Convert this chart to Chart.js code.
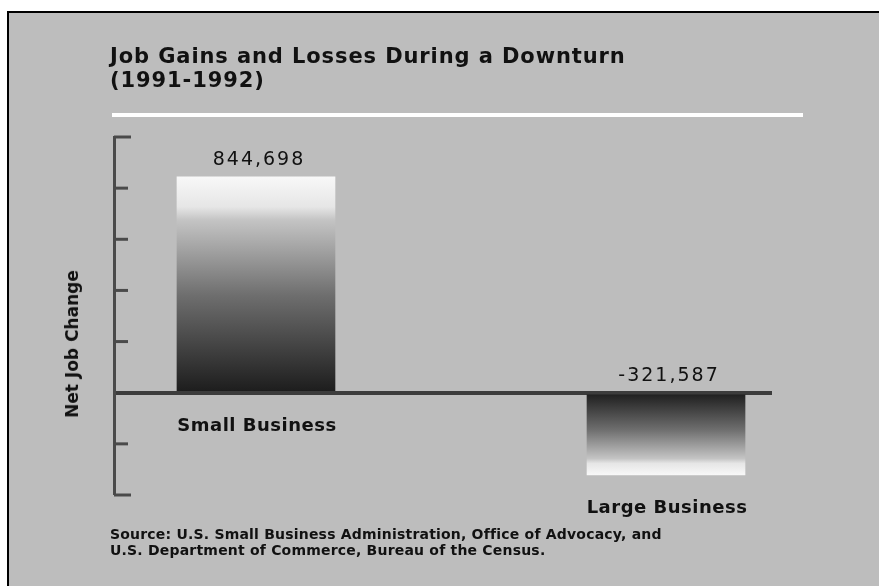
<!DOCTYPE html>
<html>
<head>
<meta charset="utf-8">
<script src="https://cdn.jsdelivr.net/npm/chart.js"></script>
<style>
  html, body { margin: 0; background: #fff; overflow: hidden; width: 879px; height: 586px; }
  #frame {
    position: absolute; left: 7px; top: 11px; width: 872px; height: 575px;
    border-left: 2px solid #000; border-top: 2px solid #000;
    background: #bdbdbd;
  }
  #wrap { position: absolute; left: 0; top: 0; width: 879px; height: 586px; }
  .txt { position: absolute; font-family: "DejaVu Sans", sans-serif; color: #111; white-space: nowrap; }
  #title { left: 110px; top: 44px; font-size: 21px; font-weight: 700; line-height: 24px; letter-spacing: 0.9px; }
  #rule { position: absolute; left: 112px; top: 113px; width: 691px; height: 4px; background: #fff; }
  #ylab { left: 72px; top: 344px; font-size: 17px; font-weight: 700; transform: translate(-50%, -50%) rotate(-90deg); }
  #source { left: 110px; top: 526px; font-size: 14px; font-weight: 700; line-height: 16px; letter-spacing: 0.2px; }
</style>
</head>
<body>
<div id="frame"></div>
<div id="wrap"><canvas id="chart" width="879" height="586"></canvas></div>
<div id="title" class="txt">Job Gains and Losses During a Downturn<br>(1991-1992)</div>
<div id="rule"></div>
<div id="ylab" class="txt">Net Job Change</div>
<div id="source" class="txt">Source: U.S. Small Business Administration, Office of Advocacy, and<br>U.S. Department of Commerce, Bureau of the Census.</div>
<script>
const categories = ['Small Business', 'Large Business'];
const netJobChange = [844698, -321587];
const valueLabels = ['844,698', '-321,587'];

function barGradient(ctx) {
    const chart = ctx.chart;
    if (!chart.chartArea || ctx.parsed === undefined) return '#777';
    const y = chart.scales.y;
    const base = y.getPixelForValue(0);
    const tip = y.getPixelForValue(ctx.parsed.y);
    const g = chart.ctx.createLinearGradient(0, base, 0, tip);
    g.addColorStop(0, '#1c1c1c');
    g.addColorStop(0.45, '#6e6e6e');
    g.addColorStop(0.8, '#c4c4c4');
    g.addColorStop(0.86, '#e6e6e6');
    g.addColorStop(1, '#f8f8f8');
    return g;
}

const decorations = {
    id: 'decorations',
    afterDraw(chart) {
        const c = chart.ctx;
        const y = chart.scales.y;
        const left = chart.chartArea.left;
        c.save();
        c.strokeStyle = '#4a4a4a';
        c.lineWidth = 3;
        y.ticks.forEach(t => {
            const py = y.getPixelForValue(t.value);
            const len = (t.value === y.max || t.value === y.min) ? 17 : 14;
            if (t.value === 0) return;
            c.beginPath();
            c.moveTo(left, py);
            c.lineTo(left + len, py);
            c.stroke();
        });
        const meta = chart.getDatasetMeta(0);
        const zero = y.getPixelForValue(0);
        c.fillStyle = '#111';
        c.textAlign = 'center';
        c.textBaseline = 'alphabetic';
        meta.data.forEach((bar, i) => {
            c.font = '19px "DejaVu Sans", sans-serif';
            c.letterSpacing = '2px';
            const top = Math.min(bar.y, zero);
            c.fillText(valueLabels[i], bar.x + 3, top - 12);
            c.font = 'bold 18px "DejaVu Sans", sans-serif';
            c.letterSpacing = '0.5px';
            const bottom = Math.max(bar.y, zero);
            c.fillText(categories[i], bar.x + 1, bottom + 38);
        });
        c.restore();
    }
};

new Chart(document.getElementById('chart'), {
    type: 'bar',
    data: {
        datasets: [{
            label: 'Net Job Change',
            data: categories.map((name, i) => ({ x: i + 1, y: netJobChange[i] })),
            backgroundColor: barGradient,
            borderWidth: 0,
            barThickness: 158
        }]
    },
    options: {
        responsive: false,
        animation: false,
        layout: { padding: { left: 114, top: 137, right: 107, bottom: 91 } },
        plugins: { legend: { display: false }, tooltip: { enabled: false } },
        scales: {
            x: { type: 'linear', display: false, offset: false, min: 0.6537, max: 2.2585 },
            y: {
                min: -400000, max: 1000000,
                ticks: { display: false, stepSize: 200000 },
                afterFit: s => { s.width = 0; },
                border: { display: true, color: '#4a4a4a', width: 3 },
                grid: {
                    drawTicks: false,
                    color: ctx => ctx.tick && ctx.tick.value === 0 ? '#3c3c3c' : 'rgba(0,0,0,0)',
                    lineWidth: ctx => ctx.tick && ctx.tick.value === 0 ? 4 : 0
                }
            }
        }
    },
    plugins: [decorations]
});
</script>
</body>
</html>
